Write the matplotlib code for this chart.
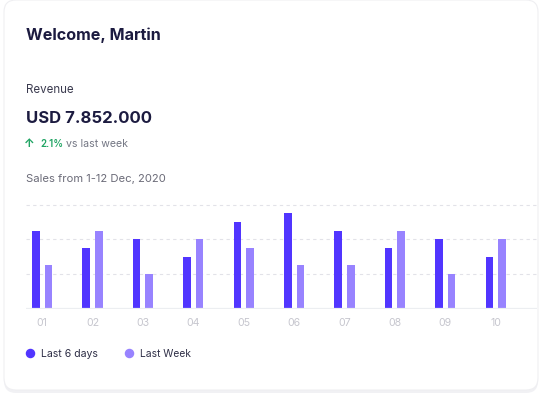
import numpy as np
import matplotlib
matplotlib.use("Agg")
import matplotlib.pyplot as plt
from matplotlib.patches import FancyBboxPatch

plt.rcParams["font.family"] = ["Inter", "DejaVu Sans"]

days = ["01", "02", "03", "04", "05", "06", "07", "08", "09", "10"]
last_6_days = [9, 7, 8, 6, 10, 11, 9, 7, 8, 6]
last_week = [5, 9, 4, 8, 7, 5, 5, 9, 4, 8]
grid_values = [4, 8, 12]

dark = "#5135ff"
light = "#9883ff"
navy = "#1c1b40"

W, H = 541, 398
fig = plt.figure(figsize=(W / 100, H / 100), dpi=100)
fig.patch.set_facecolor("white")

# background layer in pixel coords
bg = fig.add_axes([0, 0, 1, 1])
bg.set_xlim(0, W)
bg.set_ylim(H, 0)
bg.axis("off")

shadow = FancyBboxPatch((4, 2), 534, 391, boxstyle="round,pad=0,rounding_size=12",
                        fc="#f1f1f4", ec="none")
card = FancyBboxPatch((4, 0), 534, 390, boxstyle="round,pad=0,rounding_size=12",
                      fc="white", ec="#efeff2", lw=0.8)
bg.add_patch(shadow)
bg.add_patch(card)

bg.text(26, 40, "Welcome, Martin", fontsize=11.6, fontweight="bold", color=navy, va="baseline")
bg.text(26, 92.7, "Revenue", fontsize=8.3, color="#3b3b4f", va="baseline")
bg.text(26, 122.7, "USD 7.852.000", fontsize=12.0, fontweight="bold", color=navy, va="baseline")
bg.text(24, 146.7, "↑", fontsize=8.5, color="#1fa463", va="baseline", fontweight="bold")
bg.text(40, 146.7, "2.1%", fontsize=7.0, color="#1fa463", va="baseline", fontweight="semibold")
bg.text(65.7, 146.7, "vs last week", fontsize=7.6, color="#737683", va="baseline")
bg.text(26, 182, "Sales from 1-12 Dec, 2020", fontsize=8.1, color="#6b6b78", va="baseline")

# legend
bg.scatter([29.7], [353], s=34, color=dark, zorder=3)
bg.text(40.7, 357.3, "Last 6 days", fontsize=7.55, color="#2d2d45", va="baseline")
bg.scatter([128.7], [353], s=34, color=light, zorder=3)
bg.text(140, 357.3, "Last Week", fontsize=7.4, color="#2d2d45", va="baseline")

# chart
ax = fig.add_axes([26 / W, 1 - 308.7 / H, (537 - 26) / W, (308.7 - 200.3) / H])
ax.set_facecolor("none")
x = np.arange(len(days))
bw = 0.15
ax.bar(x - 0.125, last_6_days, width=bw, color=dark, zorder=3)
ax.bar(x + 0.125, last_week, width=bw, color=light, zorder=3)
for g in grid_values:
    ax.axhline(g, color="#e2e2e8", lw=0.8, dashes=(3, 3), zorder=1)
ax.axhline(0, color="#eceef1", lw=1.6, zorder=4)
ax.set_xlim(-0.32, 9.82)
ax.set_ylim(0, 12.5)
ax.set_xticks(x)
ax.set_xticklabels(days)
ax.set_yticks([])
ax.tick_params(axis="x", length=0, pad=7, labelsize=7.6, labelcolor="#c6c6ce")
for s in ax.spines.values():
    s.set_visible(False)

fig.savefig("out.png", dpi=100)
